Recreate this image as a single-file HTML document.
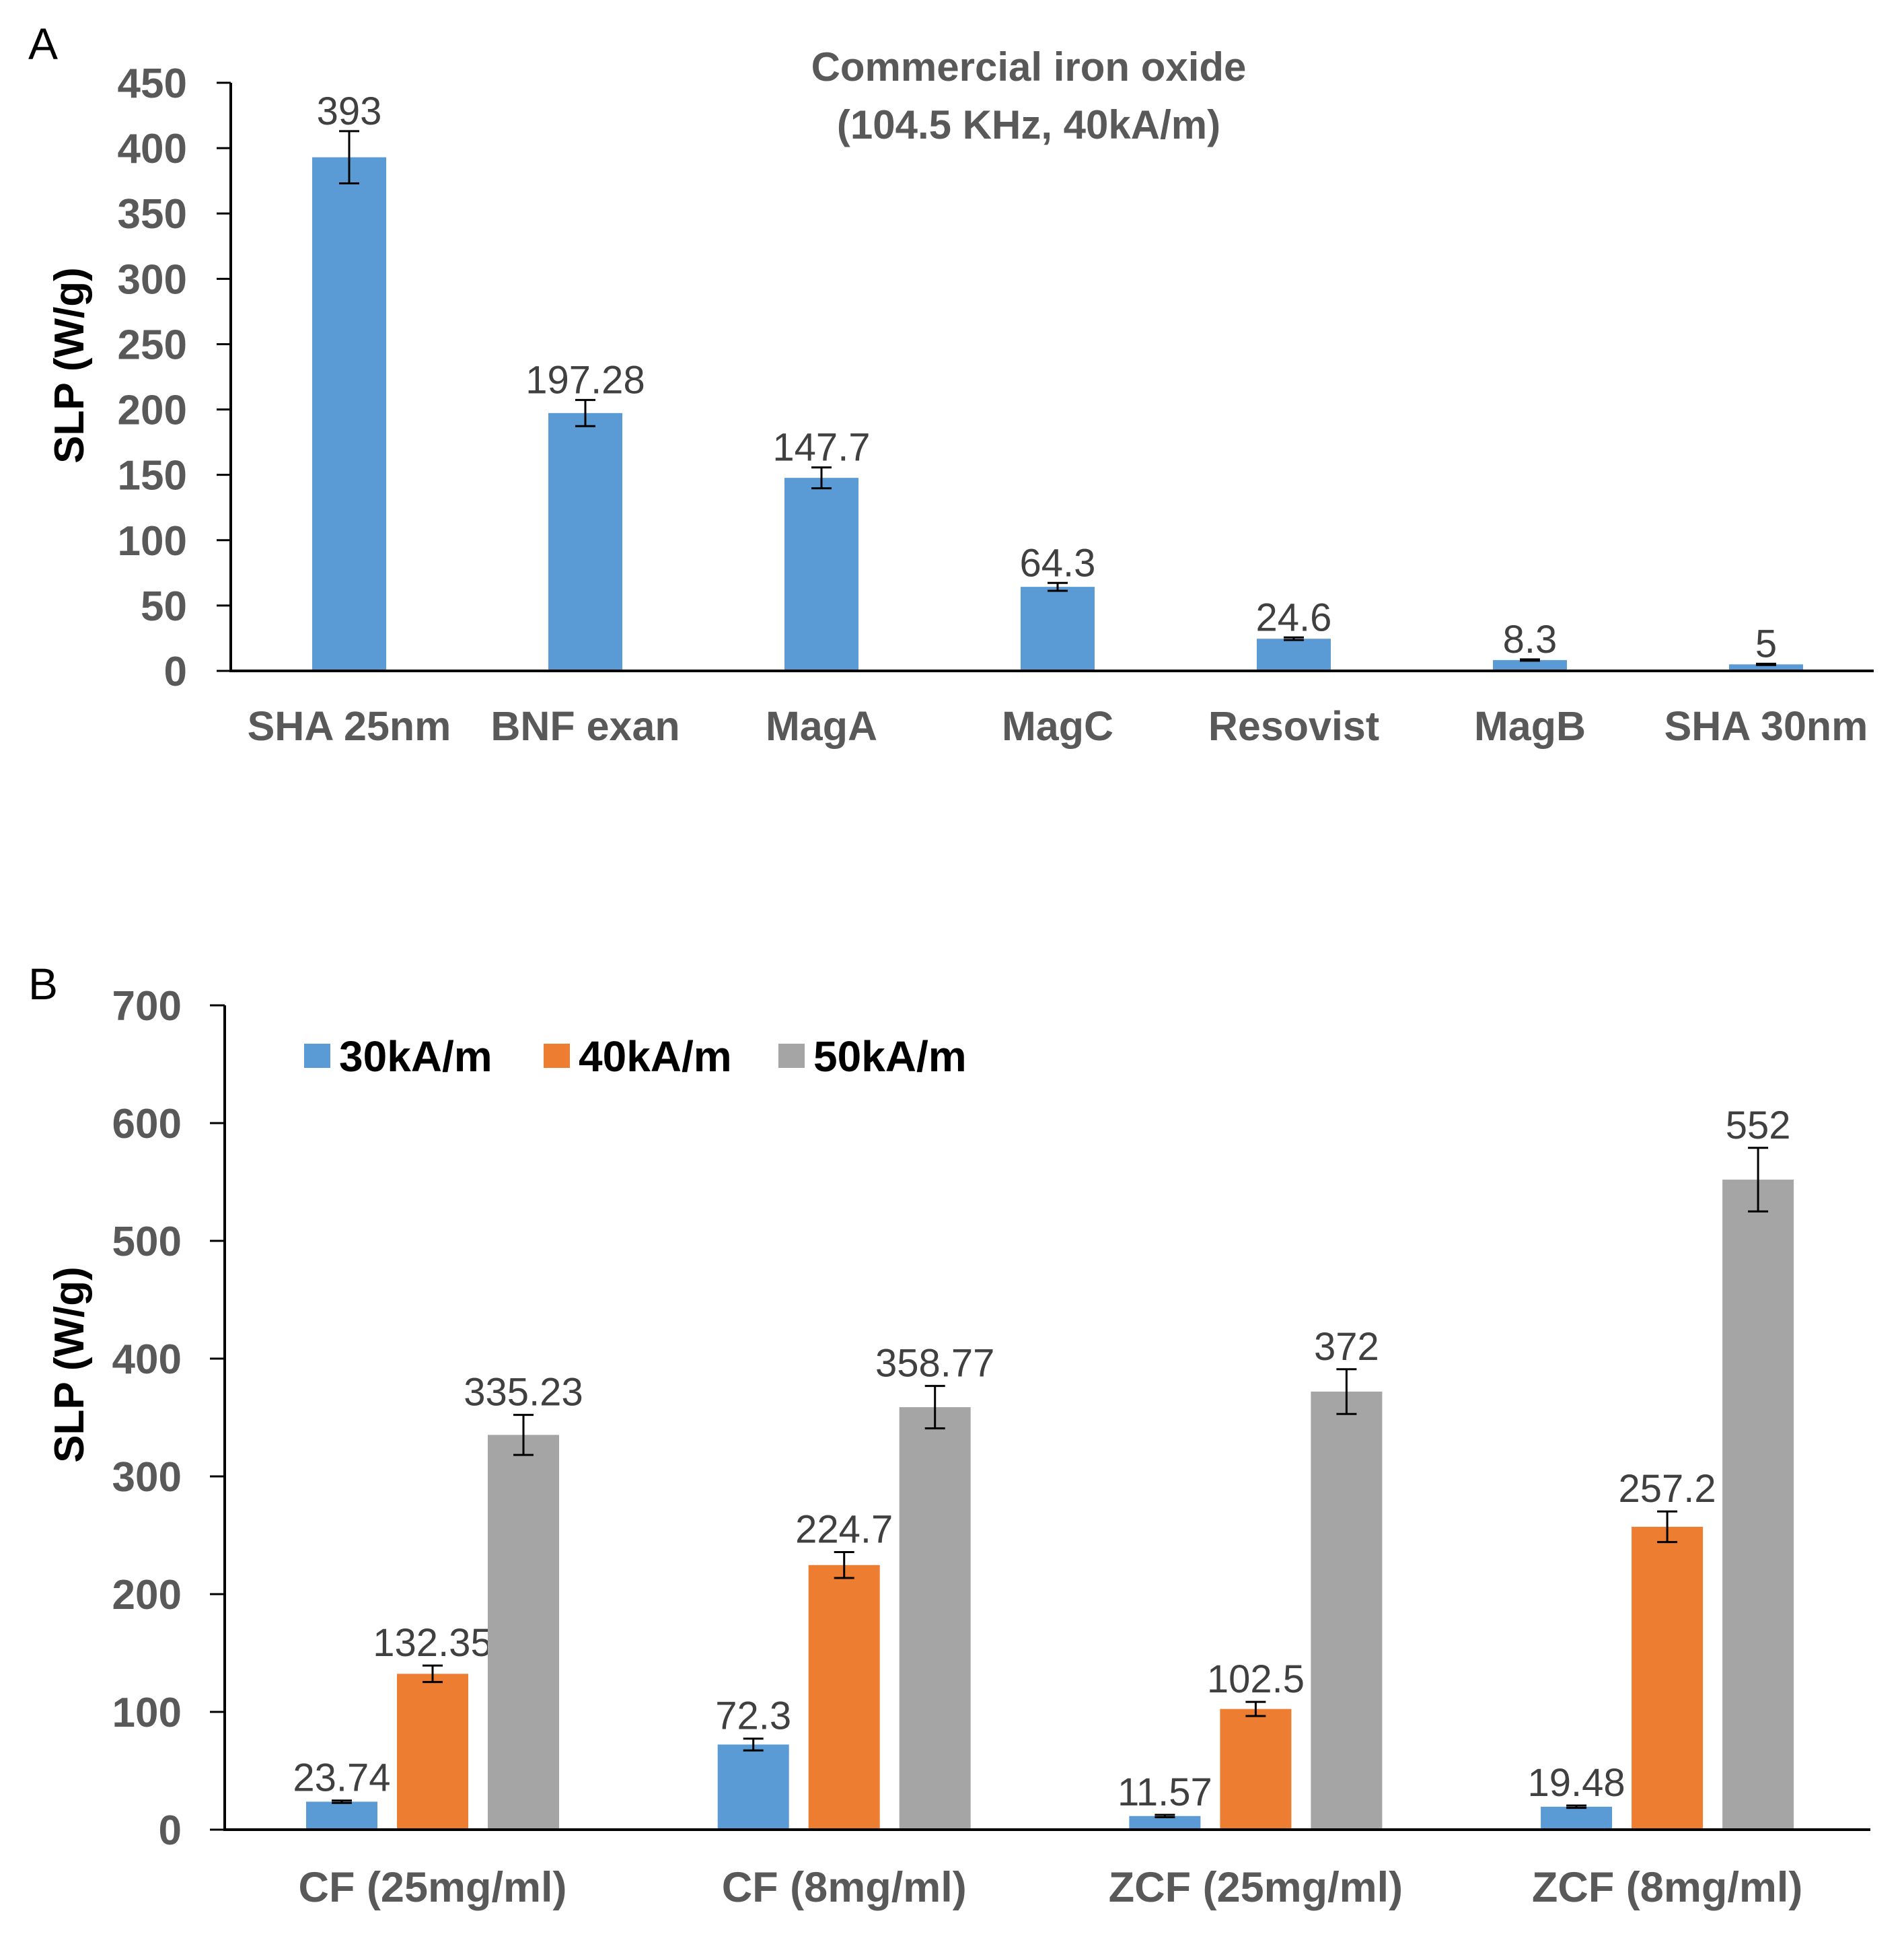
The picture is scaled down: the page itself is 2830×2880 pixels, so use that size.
<!DOCTYPE html>
<html><head><meta charset="utf-8"><style>
html,body{margin:0;padding:0;background:#fff;}
svg{display:block;}
text{font-family:"Liberation Sans",sans-serif;}
</style></head><body>
<svg id="chart" width="2830" height="2880" viewBox="0 0 2830 2880" xmlns="http://www.w3.org/2000/svg">
<text x="42" y="88" font-size="66" fill="#000">A</text>
<text x="42" y="1485" font-size="66" fill="#000">B</text>
<text x="1529" y="120" font-size="60" font-weight="bold" fill="#595959" text-anchor="middle">Commercial iron oxide</text>
<text x="1529" y="206" font-size="60" font-weight="bold" fill="#595959" text-anchor="middle">(104.5 KHz, 40kA/m)</text>
<text transform="translate(124,543) rotate(-90)" font-size="62" font-weight="bold" fill="#000" text-anchor="middle">SLP (W/g)</text>
<text transform="translate(124,2028) rotate(-90)" font-size="62" font-weight="bold" fill="#000" text-anchor="middle">SLP (W/g)</text>
<g id="ga"></g>
<g id="gb"></g>
</svg>
<script>
const catsA = ["SHA 25nm","BNF exan","MagA","MagC","Resovist","MagB","SHA 30nm"];
const valsA = [393,197.28,147.7,64.3,24.6,8.3,5];
const errA = [20,10,8,3,1,0.5,0.5];
const ticksA = [0,50,100,150,200,250,300,350,400,450];

const catsB = ["CF (25mg/ml)","CF (8mg/ml)","ZCF (25mg/ml)","ZCF (8mg/ml)"];
const seriesB = ["30kA/m","40kA/m","50kA/m"];
const s30 = [23.74,72.3,11.57,19.48];
const s40 = [132.35,224.7,102.5,257.2];
const s50 = [335.23,358.77,372,552];
const e30 = [1,5,1,1];
const e40 = [7,11,6,13];
const e50 = [17,18,19,27];
const ticksB = [0,100,200,300,400,500,600,700];

const NS="http://www.w3.org/2000/svg";
function mk(tag, attrs, parent){const e=document.createElementNS(NS,tag);for(const k in attrs)e.setAttribute(k,attrs[k]);parent.appendChild(e);return e;}

// Chart A
const ga=document.getElementById('ga');
const yA=v=>997-(v/450)*(997-123);
const xA=i=>519+i*351;
ticksA.forEach(t=>{
  const l=mk('line',{x1:322,x2:343,y1:yA(t),y2:yA(t),stroke:'#000','stroke-width':3},ga);
  
  
  const tx=mk('text',{x:278,y:yA(t)+22,'font-size':62,'font-weight':'bold',fill:'#595959','text-anchor':'end'},ga);
  tx.textContent=t;
  
  
});
valsA.forEach((v,i)=>{
  const cx=xA(i);
  const r=mk('rect',{x:cx-55,y:yA(v),width:110,height:yA(0)-yA(v),fill:'#5b9bd5'},ga);
  
  
  const eb=mk('path',{d:`M${cx-15},${yA(v+errA[i])}H${cx+15}M${cx},${yA(v+errA[i])}V${yA(v-errA[i])}M${cx-15},${yA(v-errA[i])}H${cx+15}`,stroke:'#000','stroke-width':3,fill:'none'},ga);
  
  
  const lb=mk('text',{x:cx,y:yA(v+errA[i])-10,'font-size':58,fill:'#404040','text-anchor':'middle'},ga);
  lb.textContent=v;
  
  
  const cl=mk('text',{x:cx,y:1100,'font-size':61,'font-weight':'bold',fill:'#595959','text-anchor':'middle'},ga);
  cl.textContent=catsA[i];
  
  
});
const axA=mk('path',{d:`M343,${yA(450)}V${yA(0)}H2785`,stroke:'#000','stroke-width':4,fill:'none'},ga);



// Chart B
const gb=document.getElementById('gb');
const yB=v=>2719-(v/700)*(2719-1494);
const xB=i=>643+i*611.7;
const colors=['#5b9bd5','#ed7d31','#a5a5a5'];
const sers=[s30,s40,s50], errs=[e30,e40,e50];
ticksB.forEach(t=>{
  const l=mk('line',{x1:312,x2:334,y1:yB(t),y2:yB(t),stroke:'#000','stroke-width':3},gb);
  
  
  const tx=mk('text',{x:270,y:yB(t)+22,'font-size':62,'font-weight':'bold',fill:'#595959','text-anchor':'end'},gb);
  tx.textContent=t;
  
  
});
catsB.forEach((c,i)=>{
  sers.forEach((s,k)=>{
    const cx=xB(i)+(k-1)*135, v=s[i], e=errs[k][i];
    const r=mk('rect',{x:cx-53,y:yB(v),width:106,height:yB(0)-yB(v),fill:colors[k]},gb);
    
    
    const eb=mk('path',{d:`M${cx-15},${yB(v+e)}H${cx+15}M${cx},${yB(v+e)}V${yB(v-e)}M${cx-15},${yB(v-e)}H${cx+15}`,stroke:'#000','stroke-width':3,fill:'none'},gb);
    
    
    const lb=mk('text',{x:cx,y:yB(v+e)-14,'font-size':58,fill:'#404040','text-anchor':'middle'},gb);
    lb.textContent=v;
    
    
  });
  const cl=mk('text',{x:xB(i),y:2826,'font-size':63,'font-weight':'bold',fill:'#595959','text-anchor':'middle'},gb);
  cl.textContent=c;
  
  
});
const axB=mk('path',{d:`M334,${yB(700)}V${yB(0)}H2780`,stroke:'#000','stroke-width':4,fill:'none'},gb);


const legX=[452,808,1157];
seriesB.forEach((s,k)=>{
  const sq=mk('rect',{x:legX[k],y:1551,width:39,height:36,fill:colors[k]},gb);
  
  
  const t=mk('text',{x:legX[k]+52,y:1592,'font-size':64,'font-weight':'bold',fill:'#000'},gb);
  t.textContent=s;
  
  
});
</script>
</body></html>
